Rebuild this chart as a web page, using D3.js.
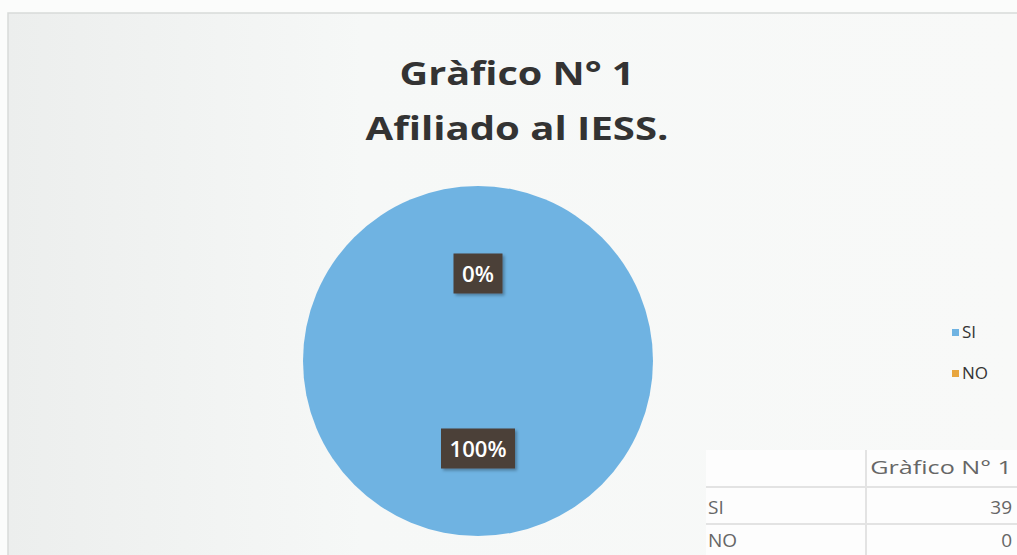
<!DOCTYPE html>
<html><head><meta charset="utf-8">
<script src="https://cdn.jsdelivr.net/npm/d3@7"></script>
<style>html,body{margin:0;padding:0;background:#fff;overflow:hidden}</style>
</head><body>
<svg id="chart" width="1017" height="555"></svg>
<script>
const categories = ["SI", "NO"];
const values = [39, 0];
const colors = ["#6fb3e2", "#e8a63e"];
const titleLines = ["Gràfico N° 1", "Afiliado al IESS."];
const tableHeader = "Gràfico N° 1";

const font = "'Open Sans', Lato, sans-serif";
const svg = d3.select("#chart");
const defs = svg.append("defs");
const grad = defs.append("linearGradient").attr("id", "bg").attr("x1", "0").attr("x2", "1").attr("y1", "0").attr("y2", "0");
grad.append("stop").attr("offset", "0").attr("stop-color", "#eceeed");
grad.append("stop").attr("offset", "0.35").attr("stop-color", "#f6f8f7");
grad.append("stop").attr("offset", "1").attr("stop-color", "#f8f9f8");
const sh = defs.append("filter").attr("id", "sh").attr("x", "-20%").attr("y", "-20%").attr("width", "150%").attr("height", "160%");
sh.append("feDropShadow").attr("dx", 2).attr("dy", 2).attr("stdDeviation", 1.5).attr("flood-color", "#000").attr("flood-opacity", 0.3);

svg.append("rect").attr("x", 0).attr("y", 0).attr("width", 1017).attr("height", 555).attr("fill", "#fbfcfb");
svg.append("rect").attr("x", 8).attr("y", 13).attr("width", 1012).attr("height", 545)
  .attr("fill", "url(#bg)").attr("stroke", "#d8dad9").attr("stroke-width", 1.5);

// fit text horizontally by scaling glyphs
function fitX(sel, target) {
  sel.each(function (d, i) {
    const t = d3.select(this);
    const w = this.getComputedTextLength();
    const tw = typeof target === "function" ? target(d, i) : target;
    const x = +t.attr("x"), y = +t.attr("y");
    t.attr("transform", `translate(${x},${y}) scale(${tw / w},1)`).attr("x", 0).attr("y", 0);
  });
}

// Title
const titleWidths = [235, 303];
const title = svg.append("g").selectAll("text").data(titleLines).join("text")
  .attr("x", 517).attr("y", (d, i) => 85 + i * 55)
  .attr("text-anchor", "middle")
  .attr("font-family", font)
  .attr("font-weight", "bold").attr("font-size", 32)
  .attr("fill", "#333").text(d => d);
fitX(title, (d, i) => titleWidths[i]);

// Pie
const cx = 478, cy = 361, r = 175;
const pie = d3.pie().sort(null).value(d => d.v);
const data = categories.map((c, i) => ({ c, v: values[i], col: colors[i] }));
const arcs = pie(data);
const arc = d3.arc().innerRadius(0).outerRadius(r);
const labelArc = d3.arc().innerRadius(r * 0.5).outerRadius(r * 0.5);
const g = svg.append("g").attr("transform", `translate(${cx},${cy})`);
g.selectAll("path").data(arcs).join("path")
  .attr("d", arc).attr("fill", d => d.data.col);

const total = d3.sum(values);
const lbl = g.selectAll("g.lbl").data(arcs).join("g").attr("class", "lbl")
  .attr("transform", d => { const [x, y] = labelArc.centroid(d); return `translate(${x},${y})`; });
lbl.each(function (d) {
  const s = d3.select(this);
  const txt = Math.round(d.data.v / total * 100) + "%";
  const tw = txt.length === 2 ? 32 : 57;
  const w = tw + 17;
  s.append("rect").attr("x", -w / 2).attr("y", -20).attr("width", w).attr("height", 40)
    .attr("fill", "#4b3f38").attr("filter", "url(#sh)");
  const t = s.append("text").attr("text-anchor", "middle").attr("x", 0).attr("y", 8)
    .attr("font-family", font).attr("font-weight", 600).attr("font-size", 21)
    .attr("fill", "#fff").text(txt);
  fitX(t, tw);
});

// Legend
const leg = svg.append("g").selectAll("g").data(data).join("g")
  .attr("transform", (d, i) => `translate(952,${329 + i * 41})`);
leg.append("rect").attr("width", 7).attr("height", 7).attr("fill", d => d.col);
leg.append("text").attr("x", 10).attr("y", 9)
  .attr("font-family", font).attr("font-size", 17)
  .attr("fill", "#333").text(d => d.c);

// Data table
const tx = 706, ty = 450, col1 = 160, col2 = 160, rowH = [37, 37, 35];
const tbl = svg.append("g");
tbl.append("rect").attr("x", tx).attr("y", ty).attr("width", col1 + col2).attr("height", d3.sum(rowH)).attr("fill", "#fdfdfd");
let yy = ty;
rowH.forEach((h, i) => {
  if (i > 0) tbl.append("line").attr("x1", tx).attr("x2", tx + col1 + col2).attr("y1", yy).attr("y2", yy).attr("stroke", "#e3e3e3").attr("stroke-width", 2);
  yy += h;
});
tbl.append("line").attr("x1", tx + col1).attr("x2", tx + col1).attr("y1", ty).attr("y2", ty + d3.sum(rowH)).attr("stroke", "#e3e3e3").attr("stroke-width", 2);
const hdr = tbl.append("text").attr("x", 1012).attr("y", 474).attr("text-anchor", "end")
  .attr("font-family", font).attr("font-size", 19)
  .attr("fill", "#666").text(tableHeader);
fitX(hdr, 142);
tbl.selectAll("text.rl").data(data).join("text").attr("class", "rl")
  .attr("x", 708).attr("y", (d, i) => 514 + i * 33)
  .attr("font-family", font).attr("font-size", 19)
  .attr("fill", "#666").text(d => d.c);
tbl.selectAll("text.rv").data(data).join("text").attr("class", "rv")
  .attr("x", 1012).attr("y", (d, i) => 514 + i * 33).attr("text-anchor", "end")
  .attr("font-family", font).attr("font-size", 19)
  .attr("fill", "#666").text(d => d.v);
</script>
</body></html>
